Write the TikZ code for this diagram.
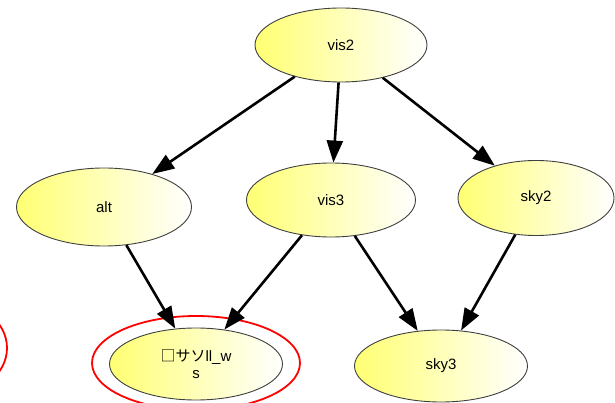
\documentclass[tikz,border=0pt]{standalone}
\usepackage{fontspec}
\setmainfont{Liberation Sans}
\newfontfamily\cjk{Noto Sans CJK JP}
\usetikzlibrary{shapes.geometric,arrows.meta}
\definecolor{nodeyellow}{RGB}{255,255,115}
\begin{document}
\begin{tikzpicture}[x=1pt,y=-1pt,
  state/.style={ellipse, draw=black!75, line width=0.9pt,
    left color=nodeyellow, right color=white,
    minimum width=172pt, minimum height=74pt, inner sep=0pt,
    font=\fontsize{15}{16}\selectfont, align=center},
  edge/.style={line width=2.6pt, -{Triangle[length=22pt,width=16pt]}},
  halo/.style={ellipse, draw=red, line width=1.8pt, fill=none,
    minimum width=208pt, minimum height=94pt, inner sep=0pt}
]
\useasboundingbox (0,0) rectangle (615,403);

% graph nodes
\node[state] (vis2) at (341,45) {vis2};
\node[state, minimum width=175pt, minimum height=78pt] (alt) at (104,207) {alt};
\node[state, minimum width=169pt] (vis3) at (331,200) {vis3};
\node[state, minimum width=156pt, minimum height=75pt] (sky2) at (536,198) {sky2};
\node[state, minimum width=173pt, minimum height=72pt] (sky3) at (441,366) {sky3};
\node[state, minimum width=173pt, minimum height=72pt] (ws) at (196,364)
  {{\cjk □サソ}ll\_w\\[1pt]s};

% red highlight rings
\node[halo] (ring) at (196,363) {};
\node[halo, minimum width=120pt, minimum height=96pt] (ringleft) at (-53,348) {};

% connectors
\draw[edge] (vis2) -- (alt);
\draw[edge] (vis2) -- (vis3);
\draw[edge] (vis2) -- (sky2);
\draw[edge] (alt) -- (ws);
\draw[edge] (vis3) -- (ws);
\draw[edge] (vis3) -- (sky3);
\draw[edge] (sky2) -- (sky3);
\end{tikzpicture}
\end{document}
